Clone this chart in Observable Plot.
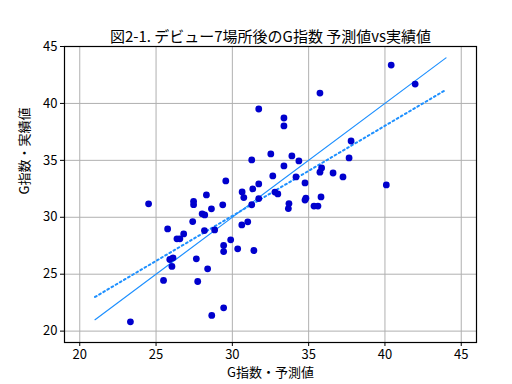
<!DOCTYPE html>
<html>
<head>
<meta charset="utf-8">
<script src="https://cdn.jsdelivr.net/npm/d3@7"></script>
<script src="https://cdn.jsdelivr.net/npm/@observablehq/plot@0.6"></script>
<style>
  html, body { margin: 0; padding: 0; background: #fff; }
  svg { display: block; }
</style>
</head>
<body>
<div id="chart"></div>
<script>
const title = "図2-1. デビュー7場所後のG指数 予測値vs実績値";
const xLabel = "G指数・予測値";
const yLabel = "G指数・実績値";
const xTicks = [20, 25, 30, 35, 40, 45];
const yTicks = [20, 25, 30, 35, 40, 45];

// predicted (x) and actual (y) G index values
const predicted = [
  40.41, 41.98, 35.74, 31.73, 33.38, 33.38, 37.78, 37.65, 31.27, 32.52,
  33.90, 34.36, 33.38, 35.85, 35.74, 36.60, 37.25, 32.65, 34.17, 34.76,
  31.73, 40.09, 31.34, 30.64, 30.75, 31.73, 32.79, 32.98, 34.82, 34.76,
  35.81, 31.27, 33.71, 33.67, 35.35, 35.61, 29.57, 24.51, 27.46, 27.46,
  28.30, 29.37, 28.63, 28.02, 28.19, 27.40, 25.76, 26.81, 26.37, 26.56,
  28.17, 28.84, 30.62, 31.01, 29.89, 29.43, 29.43, 30.35, 31.41, 25.90,
  26.11, 26.04, 27.64, 28.38, 25.49, 27.73, 29.43, 28.65, 23.32
];
const actual = [
  43.37, 41.70, 40.91, 39.51, 38.72, 38.02, 36.70, 35.21, 35.04, 35.56,
  35.39, 34.95, 34.51, 34.33, 33.96, 33.89, 33.54, 33.63, 33.54, 33.02,
  32.93, 32.84, 32.49, 32.23, 31.73, 31.64, 32.21, 32.05, 31.67, 31.51,
  31.79, 31.10, 31.20, 30.76, 30.98, 30.98, 33.19, 31.18, 31.40, 31.11,
  31.96, 31.09, 30.74, 30.30, 30.21, 29.62, 28.98, 28.54, 28.11, 28.11,
  28.83, 28.89, 29.33, 29.60, 28.02, 27.52, 26.99, 27.23, 27.08, 26.29,
  26.44, 25.68, 26.35, 25.47, 24.45, 24.36, 22.05, 21.38, 20.82
];

// reference line y = x and fitted trend line endpoints
const identityX = [21, 44];
const identityY = [21, 44];
const fitX = [21, 44];
const fitY = [23.0, 41.2];

const points = predicted.map((x, i) => ({x, y: actual[i]}));
const identity = identityX.map((x, i) => ({x, y: identityY[i]}));
const fit = fitX.map((x, i) => ({x, y: fitY[i]}));

const font = "'Noto Sans CJK JP', 'DejaVu Sans', sans-serif";

const chart = Plot.plot({
  width: 512,
  height: 384,
  marginLeft: 64,
  marginRight: 36,
  marginTop: 46,
  marginBottom: 42,
  style: {fontFamily: font, fontSize: "13px", color: "#000", background: "#fff"},
  x: {domain: [19, 46], ticks: xTicks, label: null},
  y: {domain: [19, 45], ticks: yTicks, label: null},
  marks: [
    Plot.gridX(xTicks, {stroke: "#b0b0b0", strokeOpacity: 1, strokeWidth: 1}),
    Plot.gridY(yTicks, {stroke: "#b0b0b0", strokeOpacity: 1, strokeWidth: 1}),
    Plot.axisX(xTicks, {tickSize: 4, tickPadding: 3, fontSize: 13, stroke: "#000", label: null}),
    Plot.axisY(yTicks, {tickSize: 4, tickPadding: 3, fontSize: 13, stroke: "#000", label: null}),
    Plot.line(identity, {x: "x", y: "y", stroke: "#1e90ff", strokeWidth: 1.2}),
    Plot.line(fit, {x: "x", y: "y", stroke: "#1e90ff", strokeWidth: 2, strokeDasharray: "1.8 3"}),
    Plot.dot(points, {x: "x", y: "y", r: 3.4, fill: "#0000cd", stroke: "none"}),
    Plot.frame({stroke: "#000", strokeWidth: 1.2}),
    Plot.text([title], {frameAnchor: "top", dy: -15, fontSize: 15, fill: "#000", fontFamily: font}),
    Plot.text([xLabel], {frameAnchor: "bottom", dy: 34, fontSize: 13, fill: "#000", fontFamily: font}),
    Plot.text([yLabel], {frameAnchor: "left", dx: -40, rotate: -90, fontSize: 13, fill: "#000", fontFamily: font})
  ]
});
document.getElementById("chart").appendChild(chart);
</script>
</body>
</html>
